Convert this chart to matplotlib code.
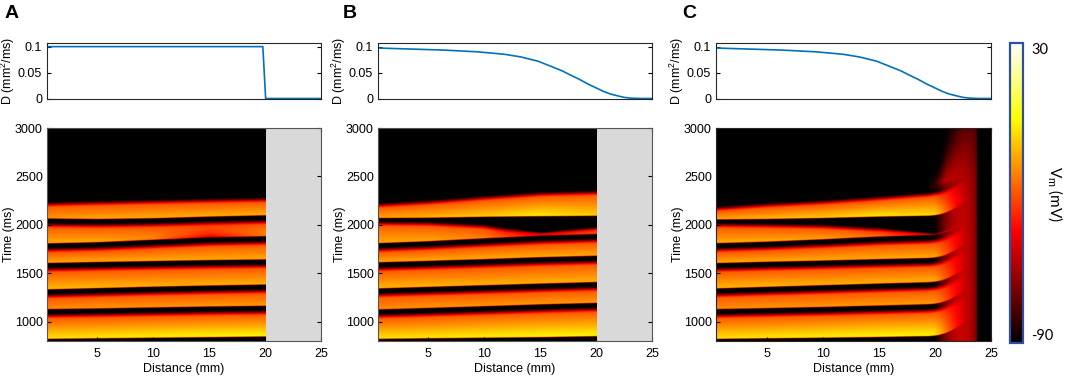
import numpy as np
import matplotlib
matplotlib.use('Agg')
import matplotlib.pyplot as plt
from matplotlib.colors import LinearSegmentedColormap

plt.rcParams['font.family'] = ['Liberation Sans', 'DejaVu Sans']
plt.rcParams['mathtext.fontset'] = 'custom'
plt.rcParams['mathtext.rm'] = 'Liberation Sans'
plt.rcParams['mathtext.it'] = 'Liberation Sans:italic'

# ------------------------------------------------------------------ data
PANEL_LABELS = ['A', 'B', 'C']
DIST_TICKS = [5, 10, 15, 20, 25]
TIME_TICKS = [1000, 1500, 2000, 2500, 3000]
D_TICKS = [0, 0.05, 0.1]
D_TICKLABELS = ['0', '0.05', '0.1']
CB_TICKS = [-90, 30]
VMIN, VMAX = -90, 30
CMAP_POS = [0.0, 0.375, 0.75, 1.0]
CMAP_COLORS = ['#000000', '#ff0000', '#ffff00', '#ffffff']

# diffusion profiles
D_A_X = [0.5, 19.8, 20.05, 25.0]
D_A_Y = [0.1, 0.1, 0.0, 0.0]
D_BC_X = [0.5, 3.5, 6.4, 9.4, 11.8, 13.3, 14.8, 16.2, 17.0, 17.7, 18.5, 19.2,
          20.0, 20.7, 21.3, 21.9, 22.5, 23.1, 24.0, 25.0]
D_BC_Y = [0.0973, 0.0953, 0.0933, 0.0900, 0.0853, 0.0800, 0.0720, 0.0600,
          0.0530, 0.0453, 0.0370, 0.0287, 0.0205, 0.0133, 0.0085, 0.0053,
          0.0022, 0.0007, 0.0, 0.0]

# heat-map beats: upstroke time, end time, peak Vm at distance nodes
X_NODES = [0.5, 5, 10, 15, 20]

A_START = [[815, 821, 827, 833, 840],
           [1123, 1130, 1140, 1150, 1157],
           [1327, 1340, 1355, 1367, 1377],
           [1600, 1610, 1620, 1630, 1637],
           [1803, 1815, 1840, 1865, 1877],
           [2060, 2055, 2063, 2080, 2093]]
A_END = [[1093, 1100, 1110, 1120, 1127],
         [1297, 1310, 1325, 1337, 1347],
         [1570, 1580, 1590, 1600, 1607],
         [1773, 1785, 1810, 1835, 1847],
         [2030, 2025, 2033, 2050, 2063],
         [2245, 2258, 2270, 2282, 2292]]
A_PEAK = [[-4, -3, -1, 0, 0],
          [-20, -18, -18, -17, -17],
          [-12, -12, -13, -13, -13],
          [-14, -14, -14, -14, -14],
          [-14, -14, -15, -15, -16],
          [-18, -15, -14, -13, -13]]
A_DIP_BEAT = 4
A_DIP = [0, 0, -8, -42, -6]

B_START = [[815, 821, 827, 833, 843],
           [1120, 1135, 1153, 1172, 1187],
           [1337, 1353, 1370, 1387, 1403],
           [1607, 1622, 1640, 1660, 1675],
           [1805, 1825, 1855, 1883, 1900],
           [2065, 2068, 2078, 2084, 2088]]
B_END = [[1090, 1105, 1123, 1142, 1157],
         [1307, 1323, 1340, 1357, 1373],
         [1577, 1592, 1610, 1630, 1645],
         [1775, 1795, 1825, 1853, 1870],
         [2048, 2043, 2015, 1928, 1988],
         [2235, 2265, 2310, 2350, 2365]]
B_PEAK = [[-4, -3, -1, 0, 0],
          [-20, -18, -18, -17, -17],
          [-12, -12, -13, -13, -13],
          [-14, -14, -14, -14, -14],
          [-14, -15, -22, -42, -28],
          [-15, -12, -8, -2, -8]]

C_START = [[815, 821, 827, 835, 845],
           [1123, 1133, 1145, 1160, 1175],
           [1337, 1353, 1370, 1387, 1403],
           [1599, 1612, 1625, 1640, 1653],
           [1805, 1820, 1845, 1873, 1891],
           [2050, 2055, 2065, 2080, 2090]]
C_END = [[1093, 1103, 1115, 1130, 1145],
         [1307, 1323, 1340, 1357, 1373],
         [1569, 1582, 1595, 1610, 1623],
         [1775, 1790, 1815, 1843, 1861],
         [2030, 2025, 2015, 1985, 1910],
         [2200, 2235, 2265, 2305, 2350]]
C_PEAK = [[-4, -3, -1, 0, 0],
          [-20, -18, -18, -17, -17],
          [-12, -12, -13, -13, -13],
          [-14, -14, -14, -14, -14],
          [-14, -14, -16, -25, -45],
          [-14, -12, -8, -2, -5]]

# tissue near/after 20 mm in panel C
EDGE_X = [19.5, 20.0, 20.5, 21.0, 21.5, 22.0, 22.5, 23.0, 23.5, 23.75, 23.85, 25.0]
EDGE_W = [1.0, 0.97, 0.75, 0.5, 0.3, 0.15, 0.05, 0.0, 0.0, 0.0, 0.0, 0.0]
EDGE_DELAY = [0, 4, 14, 32, 58, 90, 130, 165, 190, 200, 200, 200]
EDGE_LEVEL = [-42, -42, -42, -44, -47, -50, -53, -57, -63, -70, -90, -90]
EDGE_TOP = [2330, 2350, 2420, 2560, 2680, 2800, 2920, 3000, 3050, 3050, 3050, 3050]
EDGE_SOFT = [40, 50, 80, 120, 160, 200, 230, 250, 250, 250, 250, 250]

REST = -90.0
PLATEAU_END = -28.0
UPSTROKE_MS = 10.0
REPOL_MS = 70.0
DIP_MS = 55.0


def beat(T, s, e, vp, dip):
    dur = np.maximum(e - s, 1.0)
    r = np.minimum(REPOL_MS, 0.6 * dur)
    pl_end = e - r
    tau = T - s
    vq = np.minimum(PLATEAU_END, vp - 8)
    plat = vp + (vq - vp) * np.clip(tau / np.maximum(pl_end - s, 1.0), 0, 1)
    plat = plat + dip * np.exp(-np.clip(tau, 0, None) / DIP_MS)
    up = np.clip(tau / UPSTROKE_MS, 0, 1)
    u = np.clip((T - pl_end) / r, 0, 1)
    rep = 0.5 * (1 + np.cos(np.pi * u))
    v = REST + (plat - REST) * up * rep
    return np.where((T >= s) & (T <= e), v, REST)


def field(xg, tg, starts, ends, peaks, edge=False, dip_beat=None, dip=None):
    T = tg[:, None]
    V = np.full((len(tg), len(xg)), REST)
    delay = np.interp(xg, EDGE_X, EDGE_DELAY) if edge else np.zeros_like(xg)
    for k, (s_arr, e_arr, p_arr) in enumerate(zip(starts, ends, peaks)):
        s = np.interp(xg, X_NODES, s_arr) + delay
        e = np.interp(xg, X_NODES, e_arr) + delay
        p = np.interp(xg, X_NODES, p_arr)
        d = np.interp(xg, X_NODES, dip) if (dip is not None and k == dip_beat) else np.zeros_like(xg)
        V = np.maximum(V, beat(T, s[None, :], e[None, :], p[None, :], d[None, :]))
    if edge:
        w = np.interp(xg, EDGE_X, EDGE_W)[None, :]
        lvl = np.interp(xg, EDGE_X, EDGE_LEVEL)[None, :]
        top = np.interp(xg, EDGE_X, EDGE_TOP)[None, :]
        soft = np.interp(xg, EDGE_X, EDGE_SOFT)[None, :]
        bg = REST + (lvl - REST) / (1 + np.exp((T - top) / soft))
        e_last = (np.interp(xg, X_NODES, ends[-1]) + delay)[None, :]
        wt = w * np.clip((e_last + 80 - T) / 80.0, 0, 1)
        Vedge = bg + wt * (V - bg)
        V = np.where((xg > EDGE_X[0])[None, :], Vedge, V)
    return V


cmap = LinearSegmentedColormap.from_list('hot_black', list(zip(CMAP_POS, CMAP_COLORS)), N=256)

# ------------------------------------------------------------------ figure
W, H = 1065, 377
fig = plt.figure(figsize=(W / 100, H / 100), dpi=100)


def fa(l, r, t, b):
    return [l / W, 1 - b / H, (r - l) / W, (b - t) / H]


lefts = [(47, 321), (378, 652), (716, 991)]
letter_x = [5, 343, 682]
panels = [(A_START, A_END, A_PEAK, 20.0, False, D_A_X, D_A_Y, A_DIP_BEAT, A_DIP),
          (B_START, B_END, B_PEAK, 20.0, False, D_BC_X, D_BC_Y, None, None),
          (C_START, C_END, C_PEAK, 25.0, True, D_BC_X, D_BC_Y, None, None)]

FS = 9.0
tg = np.linspace(800, 3000, 700)
for i, ((l, r), (st, en, pk, xmax, edge, dx, dy, dbeat, dip)) in enumerate(zip(lefts, panels)):
    wpx = r - l
    # top D panel
    axd = fig.add_axes(fa(l, r, 43, 98.5))
    axd.plot(dx, dy, color='#0072BD', lw=1.2)
    axd.set_xlim(0.5, 25)
    axd.set_ylim(0, 0.107)
    axd.set_xticks([])
    axd.set_yticks(D_TICKS)
    axd.set_yticklabels(D_TICKLABELS)
    axd.tick_params(axis='y', direction='in', right=True, length=3, labelsize=FS, pad=3.5)
    axd.set_ylabel('D (mm$^2$/ms)', fontsize=FS)
    axd.yaxis.set_label_coords(-30 / wpx, 0.5)
    for sp in axd.spines.values():
        sp.set_color('#262626')
        sp.set_linewidth(0.8)

    # heat map
    axh = fig.add_axes(fa(l, r, 128, 341))
    xg = np.linspace(0.5, xmax, 400)
    V = field(xg, tg, st, en, pk, edge=edge, dip_beat=dbeat, dip=dip)
    im = axh.imshow(V, origin='lower', aspect='auto', cmap=cmap, vmin=VMIN, vmax=VMAX,
                    extent=[0.5, xmax, 800, 3000], interpolation='bilinear')
    axh.set_facecolor('#d9d9d9')
    axh.set_xlim(0.5, 25)
    axh.set_ylim(800, 3000)
    axh.set_xticks(DIST_TICKS)
    axh.set_yticks(TIME_TICKS)
    axh.tick_params(direction='in', top=True, right=True, length=3, labelsize=FS)
    axh.tick_params(axis='y', pad=3)
    axh.tick_params(axis='x', pad=5)
    axh.set_xlabel('Distance (mm)', fontsize=FS, labelpad=2)
    axh.set_ylabel('Time (ms)', fontsize=FS)
    axh.yaxis.set_label_coords(-32 / wpx, 0.5)
    for sp in axh.spines.values():
        sp.set_color('#555555' if i < 2 else '#262626')
        sp.set_linewidth(0.8)

    fig.text(letter_x[i] / W, 1 - 5 / H, PANEL_LABELS[i], fontsize=14, fontweight='bold',
             ha='left', va='top')

# colorbar
cax = fig.add_axes(fa(1010, 1023, 43, 343))
cb = fig.colorbar(im, cax=cax, ticks=CB_TICKS)
cb.outline.set_edgecolor('#2d4f9c')
cb.outline.set_linewidth(1.6)
cax.tick_params(length=0, pad=6, labelsize=10.5)
cax.set_yticklabels([str(v) for v in CB_TICKS], family='Lato')
cax.get_yticklabels()[0].set_va('bottom')
cax.get_yticklabels()[1].set_va('top')
fig.text(1055 / W, 1 - 194 / H, 'V$_\\mathrm{m}$ (mV)', rotation=270, ha='center', va='center',
         fontsize=11, family='Lato')

fig.savefig('out.png', dpi=100)
